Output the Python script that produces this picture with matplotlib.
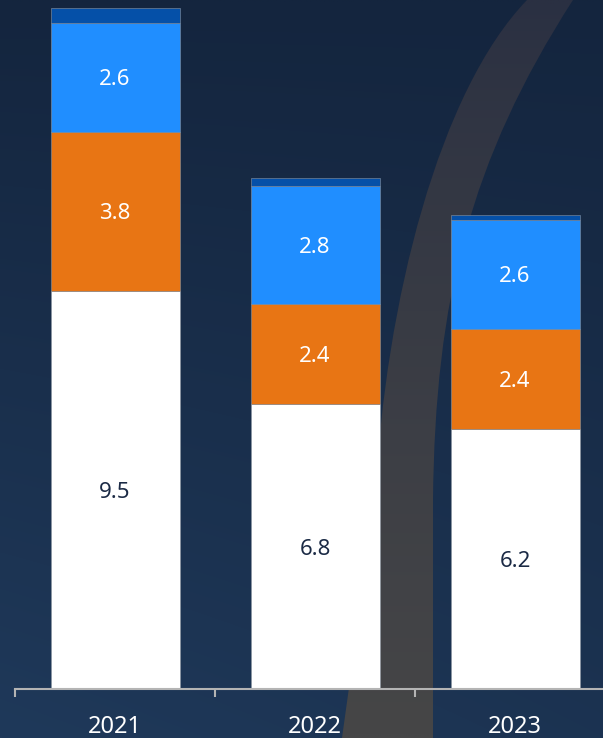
import numpy as np
import matplotlib.pyplot as plt
from matplotlib.path import Path
from matplotlib.patches import PathPatch

plt.rcParams['font.family'] = ['Noto Sans', 'DejaVu Sans']

years = ['2021', '2022', '2023']
base = [9.5, 6.8, 6.2]      # white segment
orange = [3.8, 2.4, 2.4]
blue = [2.6, 2.8, 2.6]
cap = [0.35, 0.2, 0.12]     # thin dark-blue top, unlabelled

W, H = 603, 738
fig = plt.figure(figsize=(W / 100, H / 100), dpi=100)

#%% backdrop: navy gradient plus the grey swoosh
bg = fig.add_axes([0, 0, 1, 1], zorder=0)
yy, xx = np.mgrid[0:1:200j, 0:1:200j]
c_top = np.array([0x14, 0x25, 0x3e]) / 255
c_bot = np.array([0x1f, 0x39, 0x5a]) / 255
t = np.clip(0.7 * yy + 0.3 * (1 - xx) * yy, 0, 1)[..., None]
bg.imshow(c_top * (1 - t) + c_bot * t, extent=(0, W, H, 0), aspect='auto',
          interpolation='bilinear')

verts = [(527, 0), (440, 90), (385, 300), (375, 500),
         (342, 738), (433, 738), (433, 500),
         (435, 300), (470, 160), (573, 0), (527, 0)]
codes = [Path.MOVETO, Path.CURVE4, Path.CURVE4, Path.CURVE4,
         Path.LINETO, Path.LINETO, Path.LINETO,
         Path.CURVE4, Path.CURVE4, Path.CURVE4, Path.CLOSEPOLY]
band = PathPatch(Path(verts, codes), facecolor='none', edgecolor='none',
                 transform=bg.transData)
bg.add_patch(band)
g = (np.linspace(0, 1, 100) ** 0.8)[:, None, None]
g0 = np.array([0x2a, 0x30, 0x42]) / 255
g1 = np.array([0x46, 0x46, 0x47]) / 255
swoosh = bg.imshow(g0 * (1 - g) + g1 * g, extent=(300, W, H, 0), aspect='auto',
                   interpolation='bilinear')
swoosh.set_clip_path(band)
bg.set_xlim(0, W)
bg.set_ylim(H, 0)
bg.axis('off')

#%% stacked bars
ax = fig.add_axes([15 / W, 49 / H, 600 / W, 689 / H], zorder=1)
ax.patch.set_alpha(0)
x = np.arange(len(years))
wd = 0.645
b = np.zeros(len(years))
segments = [(base, '#ffffff', '#1b2a45'),
            (orange, '#e87514', 'white'),
            (blue, '#208eff', 'white'),
            (cap, '#0550a8', None)]
for vals, col, tcol in segments:
    vals = np.array(vals)
    ax.bar(x, vals, wd, bottom=b, color=col, edgecolor='#8a94a0', linewidth=0.4)
    if tcol is not None:
        for xi, bi, v in zip(x, b, vals):
            ax.text(xi, bi + v / 2, f'{v:.1f}', ha='center', va='center_baseline',
                    fontsize=16, color=tcol)
    b = b + vals

ax.set_xlim(-0.5, 2.5)
ax.set_ylim(0, 689 / 41.9)
for s in ['left', 'right', 'top']:
    ax.spines[s].set_visible(False)
ax.spines['bottom'].set_color('#b4b4b4')
ax.spines['bottom'].set_linewidth(1.5)
ax.set_yticks([])
ax.set_xticks(x)
ax.set_xticklabels(years, fontsize=17, color='white')
ax.tick_params(axis='x', which='major', length=0, pad=19)
ax.set_xticks([-0.5, 0.5, 1.5, 2.5], minor=True)
ax.tick_params(axis='x', which='minor', length=6, width=1.5, color='#b4b4b4',
               direction='out')

fig.savefig('out.png', dpi=100)
